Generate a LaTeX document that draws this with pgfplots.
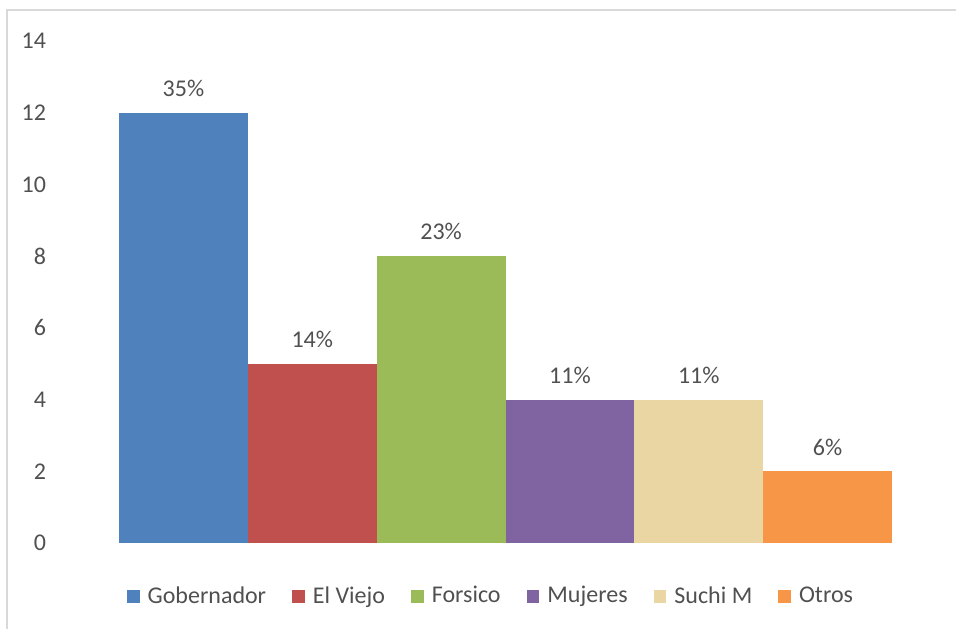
\documentclass[border=0pt]{standalone}
\usepackage{pgfplots}
\pgfplotsset{compat=1.18}
\usepackage{fontspec}
\setmainfont{Carlito}
\definecolor{cGob}{HTML}{4F81BD}
\definecolor{cVie}{HTML}{C0504D}
\definecolor{cFor}{HTML}{9BBB59}
\definecolor{cMuj}{HTML}{8064A2}
\definecolor{cSuc}{HTML}{EAD6A2}
\definecolor{cOtr}{HTML}{F79646}
\definecolor{txtgray}{HTML}{505050}
\definecolor{framegray}{HTML}{D9D9D9}
\begin{document}
\begin{tikzpicture}
\useasboundingbox (-59.5pt,-42.5pt) rectangle (418.5pt,271.5pt);
\draw[framegray, line width=0.9pt] (-56pt,-60pt) -- (-56pt,266.5pt) -- (440pt,266.5pt);
\begin{axis}[
  at={(0,0)}, anchor=south west, scale only axis,
  width=386.5pt, height=251pt,
  ybar, bar width=1,
  xmin=-0.5, xmax=5.5, ymin=0, ymax=14,
  ytick={0,2,...,14}, xtick=\empty,
  axis line style={draw=none}, major tick length=0pt,
  tick label style={font=\fontsize{12}{14}\selectfont, text=txtgray},
  yticklabel style={anchor=east, xshift=-33pt},
  /pgf/number format/assume math mode=true,
  nodes near coords, point meta=explicit symbolic,
  nodes near coords style={font=\fontsize{12}{14}\selectfont, text=txtgray, anchor=south, yshift=4.5pt},
  legend columns=-1,
  legend style={at={(axis description cs:0.4825,-0.106)}, anchor=center,
    draw=none, fill=none, font=\fontsize{12}{14}\selectfont, text=txtgray,
    /tikz/every even column/.append style={column sep=11pt},
    /tikz/every odd column/.append style={column sep=2pt}},
  legend image code/.code={\fill (0pt,-3.2pt) rectangle (6.4pt,3.2pt);},
]
\addplot[fill=cGob, draw=none, bar shift=0pt] coordinates {(0,12) [35\%]};
\addplot[fill=cVie, draw=none, bar shift=0pt] coordinates {(1,5) [14\%]};
\addplot[fill=cFor, draw=none, bar shift=0pt] coordinates {(2,8) [23\%]};
\addplot[fill=cMuj, draw=none, bar shift=0pt] coordinates {(3,4) [11\%]};
\addplot[fill=cSuc, draw=none, bar shift=0pt] coordinates {(4,4) [11\%]};
\addplot[fill=cOtr, draw=none, bar shift=0pt] coordinates {(5,2) [6\%]};
\legend{Gobernador, El Viejo, Forsico, Mujeres, Suchi M, Otros}
\end{axis}
\end{tikzpicture}
\end{document}
